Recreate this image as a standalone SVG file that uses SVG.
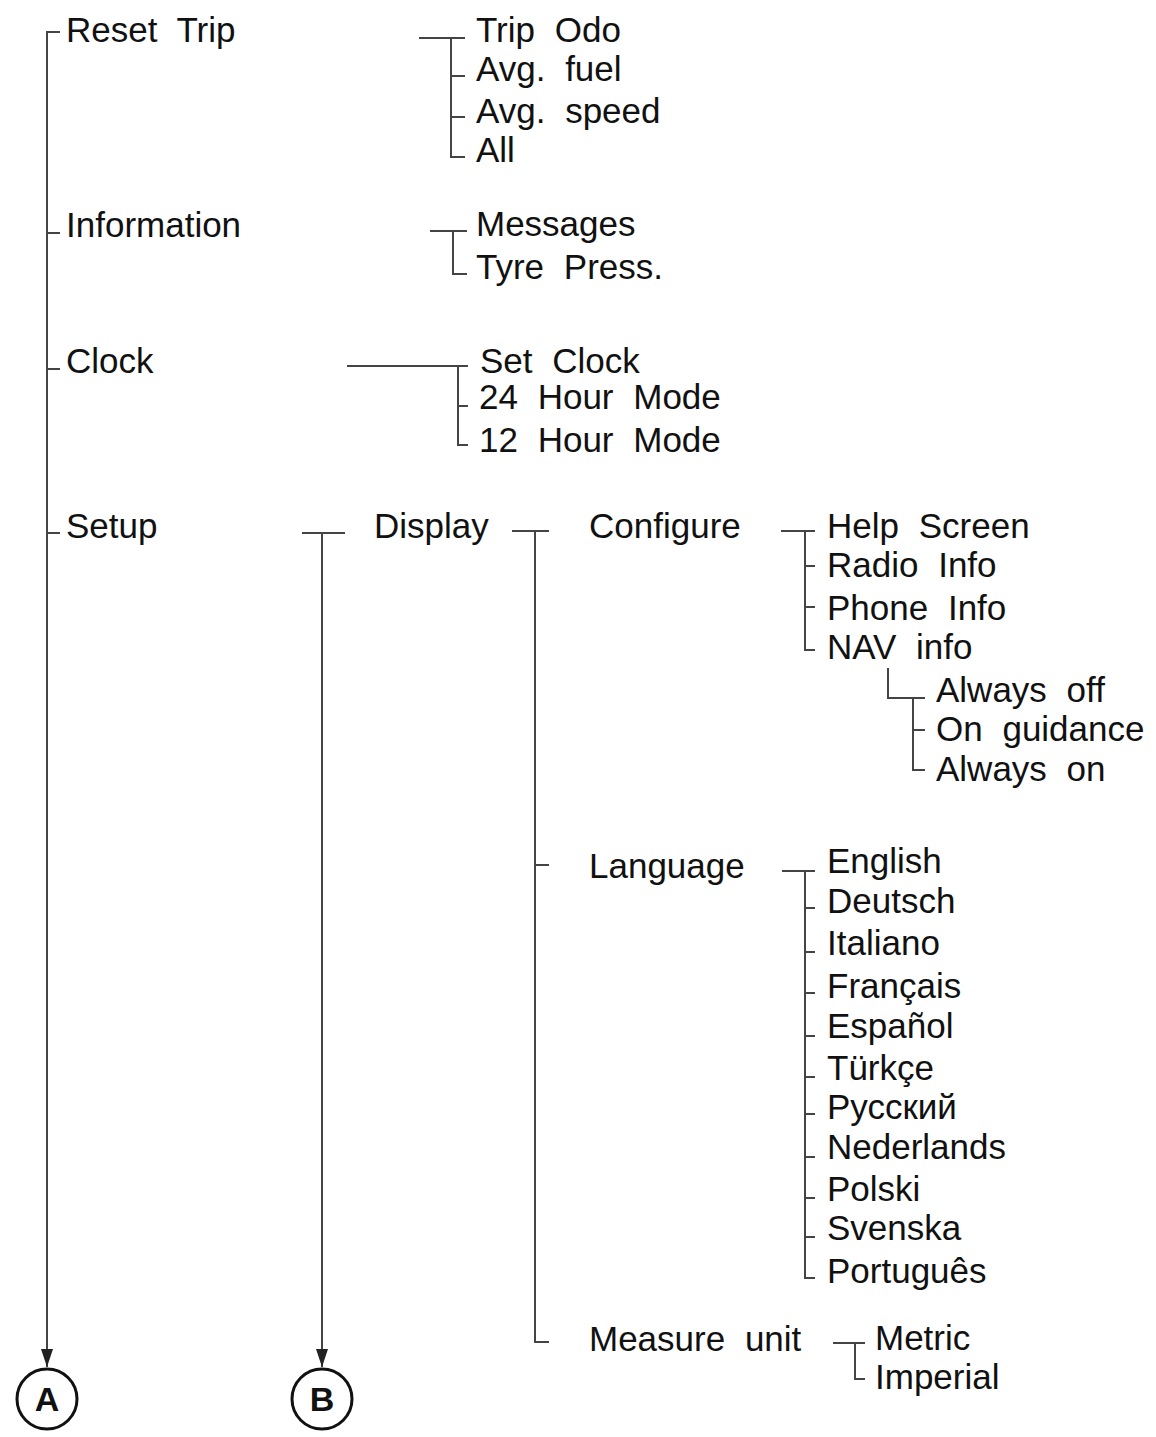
<svg xmlns="http://www.w3.org/2000/svg" width="1156" height="1437" viewBox="0 0 1156 1437">
<defs>
<style>
text{font-family:"Liberation Sans",Arial,sans-serif;font-size:35px;fill:#111;word-spacing:10px}
.c{fill:none;stroke:#444;stroke-width:2}
.circ{fill:#fff;stroke:#111;stroke-width:3}
.lbl{font-weight:bold;font-size:34px;text-anchor:middle;word-spacing:0}
</style>
<marker id="arr" viewBox="0 0 18 12" refX="18" refY="6" markerWidth="18" markerHeight="12" markerUnits="userSpaceOnUse" orient="auto">
<path d="M0,0 L18,6 L0,12 Z" fill="#222"/>
</marker>
</defs>
<rect width="1156" height="1437" fill="#fff"/>
<g id="connectors">
<path class="c" d="M60,32 H47 V1367" marker-end="url(#arr)"/>
<path class="c" d="M47,233 H60 M47,369 H60 M47,533 H60"/>
<path class="c" d="M419,38 H465 M451,38 V157 H465 M451,76 H465 M451,117 H465"/>
<path class="c" d="M430,231 H467 M453,231 V274 H467"/>
<path class="c" d="M347,366 H468 M458,366 V445 H468 M458,406 H468"/>
<path class="c" d="M302,533 H345 M322,533 V1367" marker-end="url(#arr)"/>
<path class="c" d="M512,531 H549 M535,531 V1342 H549 M535,865 H549"/>
<path class="c" d="M781,531 H815 M805,531 V650 H815 M805,566 H815 M805,607 H815"/>
<path class="c" d="M888,668 V698 H925 M913,698 V770 H925 M913,730 H925"/>
<path class="c" d="M782,871 H815 M805,871 V1278 H815 M805,908 H815 M805,952 H815 M805,993 H815 M805,1036 H815 M805,1077 H815 M805,1114 H815 M805,1157 H815 M805,1198 H815 M805,1237 H815"/>
<path class="c" d="M833,1343 H865 M855,1343 V1379 H865"/>
</g>
<g id="reset-trip"><text x="66" y="42">Reset Trip</text></g>
<g id="information"><text x="66" y="237">Information</text></g>
<g id="clock"><text x="66" y="373">Clock</text></g>
<g id="setup"><text x="66" y="538">Setup</text></g>
<g id="trip-odo"><text x="476" y="42">Trip Odo</text></g>
<g id="avg-fuel"><text x="476" y="81">Avg. fuel</text></g>
<g id="avg-speed"><text x="476" y="123">Avg. speed</text></g>
<g id="all"><text x="476" y="162">All</text></g>
<g id="messages"><text x="476" y="236">Messages</text></g>
<g id="tyre-press"><text x="476" y="279">Tyre Press.</text></g>
<g id="set-clock"><text x="480" y="373">Set Clock</text></g>
<g id="h24"><text x="479" y="409">24 Hour Mode</text></g>
<g id="h12"><text x="479" y="452">12 Hour Mode</text></g>
<g id="display"><text x="374" y="538">Display</text></g>
<g id="configure"><text x="589" y="538">Configure</text></g>
<g id="help-screen"><text x="827" y="538">Help Screen</text></g>
<g id="radio-info"><text x="827" y="577">Radio Info</text></g>
<g id="phone-info"><text x="827" y="620">Phone Info</text></g>
<g id="nav-info"><text x="827" y="659">NAV info</text></g>
<g id="always-off"><text x="936" y="702">Always off</text></g>
<g id="on-guidance"><text x="936" y="741">On guidance</text></g>
<g id="always-on"><text x="936" y="781">Always on</text></g>
<g id="language"><text x="589" y="878">Language</text></g>
<g id="english"><text x="827" y="873">English</text></g>
<g id="deutsch"><text x="827" y="913">Deutsch</text></g>
<g id="italiano"><text x="827" y="955">Italiano</text></g>
<g id="francais"><text x="827" y="998">Français</text></g>
<g id="espanol"><text x="827" y="1038">Español</text></g>
<g id="turkce"><text x="827" y="1080">Türkçe</text></g>
<g id="russian"><text x="827" y="1119">Русский</text></g>
<g id="nederlands"><text x="827" y="1159">Nederlands</text></g>
<g id="polski"><text x="827" y="1201">Polski</text></g>
<g id="svenska"><text x="827" y="1240">Svenska</text></g>
<g id="portugues"><text x="827" y="1283">Português</text></g>
<g id="measure-unit"><text x="589" y="1351">Measure unit</text></g>
<g id="metric"><text x="875" y="1350">Metric</text></g>
<g id="imperial"><text x="875" y="1389">Imperial</text></g>
<g id="node-a"><circle class="circ" cx="47" cy="1399" r="30"/><text class="lbl" x="47" y="1411">A</text></g>
<g id="node-b"><circle class="circ" cx="322" cy="1399" r="30"/><text class="lbl" x="322" y="1411">B</text></g>
</svg>
